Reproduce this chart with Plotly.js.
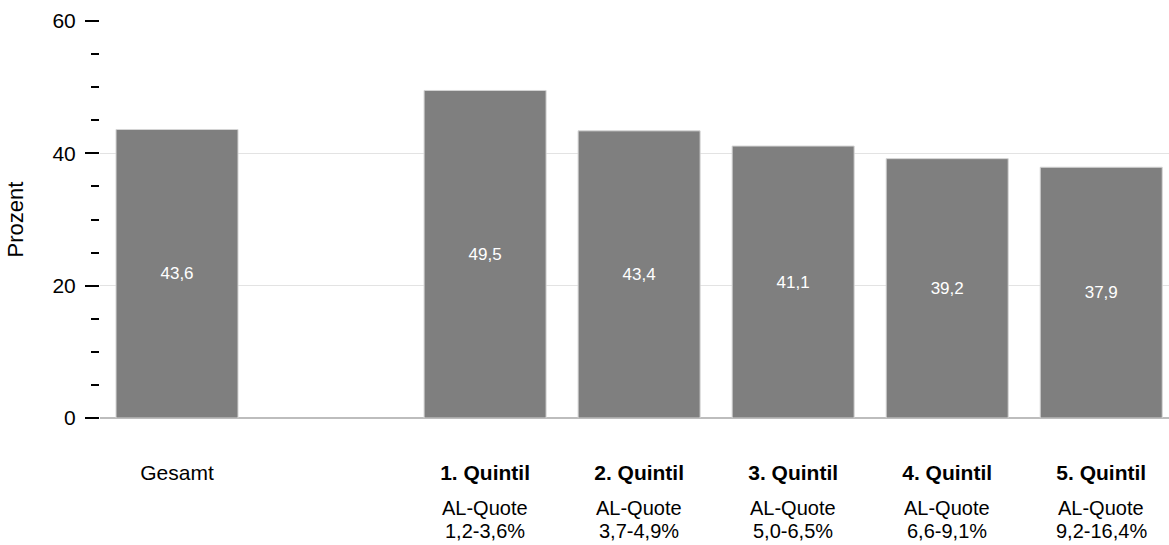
<!DOCTYPE html>
<html>
<head>
<meta charset="utf-8">
<script src="https://cdn.plot.ly/plotly-3.0.1.min.js"></script>
<style>html,body{margin:0;padding:0;background:#fff;}#chart{width:1169px;height:545px;}</style>
</head>
<body>
<div id="chart"></div>
<script>
const categories = ["Gesamt", " ", "1. Quintil", "2. Quintil", "3. Quintil", "4. Quintil", "5. Quintil"];
const tickLabels = ["Gesamt", "", "<b>1. Quintil</b>", "<b>2. Quintil</b>", "<b>3. Quintil</b>", "<b>4. Quintil</b>", "<b>5. Quintil</b>"];
const values = [43.6, null, 49.5, 43.4, 41.1, 39.2, 37.9];
const quoteLabels = ["", "", "AL-Quote", "AL-Quote", "AL-Quote", "AL-Quote", "AL-Quote"];
const rangeLabels = ["", "", "1,2-3,6%", "3,7-4,9%", "5,0-6,5%", "6,6-9,1%", "9,2-16,4%"];
const yTitle = "Prozent";

const FONT = "Liberation Sans, Arial, sans-serif";
const LBL = 21;

const trace = {
  type: "bar",
  x: categories,
  y: values,
  marker: {color: "#7f7f7f", line: {color: "#d4d4d4", width: 1}},
  texttemplate: "%{y:.1f}",
  textposition: "inside",
  insidetextanchor: "middle",
  textfont: {color: "#ffffff", size: 17, family: FONT},
  hoverinfo: "skip",
  cliponaxis: false
};

const annotations = [];
categories.forEach((c, i) => {
  if (quoteLabels[i]) {
    annotations.push({x: c, xref: "x", y: 0, yref: "paper", text: quoteLabels[i],
      showarrow: false, xanchor: "center", yanchor: "middle", yshift: -90,
      borderpad: 0,
      font: {size: 20, family: FONT, color: "#000"}});
  }
  if (rangeLabels[i]) {
    annotations.push({x: c, xref: "x", y: 0, yref: "paper", text: rangeLabels[i],
      showarrow: false, xanchor: "center", yanchor: "middle", yshift: -113,
      borderpad: 0,
      font: {size: 20, family: FONT, color: "#000"}});
  }
});

const layout = {
  width: 1169, height: 545,
  margin: {l: 100, r: 0, t: 21, b: 127},
  paper_bgcolor: "#fff", plot_bgcolor: "#fff",
  separators: ",.",
  font: {family: FONT, color: "#000"},
  bargap: 0.208,
  showlegend: false,
  xaxis: {
    type: "category",
    range: [-0.5, 6.44],
    tickmode: "array", tickvals: categories, ticktext: tickLabels,
    ticks: "", showgrid: false, zeroline: false, showline: false,
    tickfont: {size: LBL, family: FONT, color: "#000"},
    ticklabelstandoff: 40,
    fixedrange: true
  },
  yaxis: {
    range: [0, 60],
    dtick: 20, tick0: 0,
    ticks: "outside", ticklen: 14, tickwidth: 2, tickcolor: "#000",
    tickfont: {size: 21, family: FONT, color: "#000"},
    ticklabelstandoff: 5,
    showgrid: true, gridcolor: "#e3e3e3", gridwidth: 1,
    zeroline: true, zerolinecolor: "#bdbdbd", zerolinewidth: 2,
    showline: false,
    minor: {dtick: 5, ticks: "outside", ticklen: 8, tickwidth: 2, tickcolor: "#000", showgrid: false},
    title: {text: yTitle, font: {size: 22, family: FONT, color: "#000"}, standoff: 22},
    fixedrange: true
  },
  annotations: annotations
};

Plotly.newPlot("chart", [trace], layout, {displayModeBar: false, staticPlot: true});
</script>
</body>
</html>
